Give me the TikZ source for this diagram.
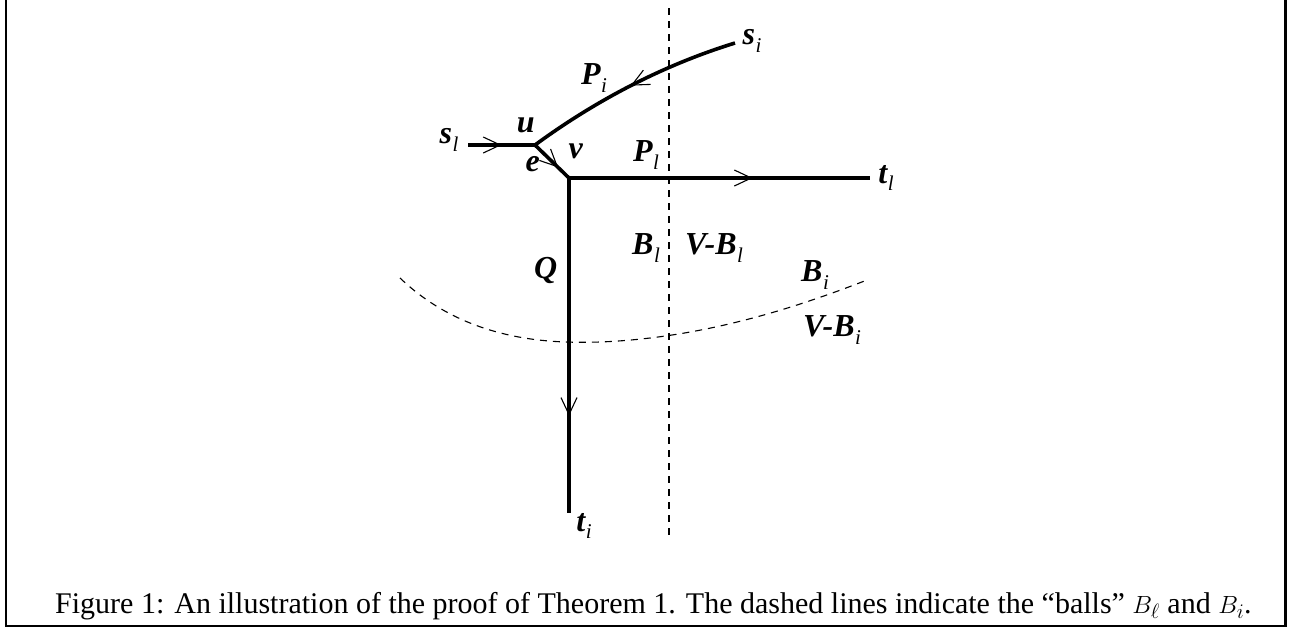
\documentclass[tikz,border=0pt]{standalone}
\usepackage{fontspec}
\setmainfont{Liberation Serif}
\usetikzlibrary{arrows.meta,decorations.markings}
\newcommand{\lbl}[2]{{\bfseries\itshape #1}\raisebox{-0.5ex}{\kern0.5pt\fontsize{21}{21}\selectfont\itshape #2}}
\tikzset{
  thickpath/.style={line width=3.6pt},
  dashline/.style={dash pattern=on 7pt off 6pt, line width=1.1pt},
  midarrow/.style={postaction={decorate}, decoration={markings,
    mark=at position #1 with {\arrow{Straight Barb[length=17pt,width=16pt,line width=1.1pt]}}}},
  lab/.style={inner sep=0pt, font=\fontsize{32}{34}\selectfont}
}
\begin{document}
\begin{tikzpicture}[x=1pt,y=-1pt]
\useasboundingbox (0,0) rectangle (1303,633);
% frame
\draw[line width=2.2pt] (6,0) -- (6,626) -- (1285.5,626) -- (1285.5,0);
% coordinates
\coordinate (sl) at (468,145);
\coordinate (u) at (535,145);
\coordinate (v) at (569,178);
\coordinate (si) at (735,43);
\coordinate (tl) at (870,178);
\coordinate (ti) at (569,513);
\coordinate (dtop) at (669,8);
\coordinate (dbot) at (669,540);
\coordinate (ba) at (400,278);
\coordinate (bb) at (867,280);
% dashed balls
\draw[dashline] (dtop) -- (dbot);
\draw[dashline] (ba) .. controls (470,345) and (560,343) .. (600,342)
   .. controls (700,338) and (790,310) .. (bb);
% paths
\draw[thickpath, midarrow=0.5] (sl) -- (u);
\draw[thickpath, midarrow=0.5] (si) .. controls (680,60) and (610,90) .. (u);
\draw[thickpath, midarrow=0.68] (u) -- (v);
\draw[thickpath, midarrow=0.61] (v) -- (tl);
\draw[thickpath, midarrow=0.71] (v) -- (ti);
% labels
\node[lab] (Lsl) at (449,140) {\lbl{s}{l}};
\node[lab] (Lu) at (526,129) {\lbl{u}{}};
\node[lab] (Le) at (533,168) {\lbl{e}{}};
\node[lab] (Lv) at (576,155) {\lbl{v}{}};
\node[lab] (Lpi) at (594,78) {\lbl{P}{i}};
\node[lab] (Lsi) at (752,41) {\lbl{s}{i}};
\node[lab] (Lpl) at (646,155) {\lbl{P}{l}};
\node[lab] (Ltl) at (886,178) {\lbl{t}{l}};
\node[lab] (LQ) at (546,272) {\lbl{Q}{}};
\node[lab] (LBl) at (646,248) {\lbl{B}{l}};
\node[lab] (LVBl) at (714,248) {\lbl{V-B}{l}};
\node[lab] (LBi) at (815,275) {\lbl{B}{i}};
\node[lab] (LVBi) at (832,330) {\lbl{V-B}{i}};
\node[lab] (Lti) at (584,526) {\lbl{t}{i}};
% caption
\node[anchor=base west, inner sep=0pt, font=\fontsize{30}{34}\selectfont] (cap) at (55,613)
 {Figure 1: An illustration of the proof of Theorem 1. The dashed lines indicate the ``balls'' $B_\ell$ and $B_i$.};
\end{tikzpicture}
\end{document}
